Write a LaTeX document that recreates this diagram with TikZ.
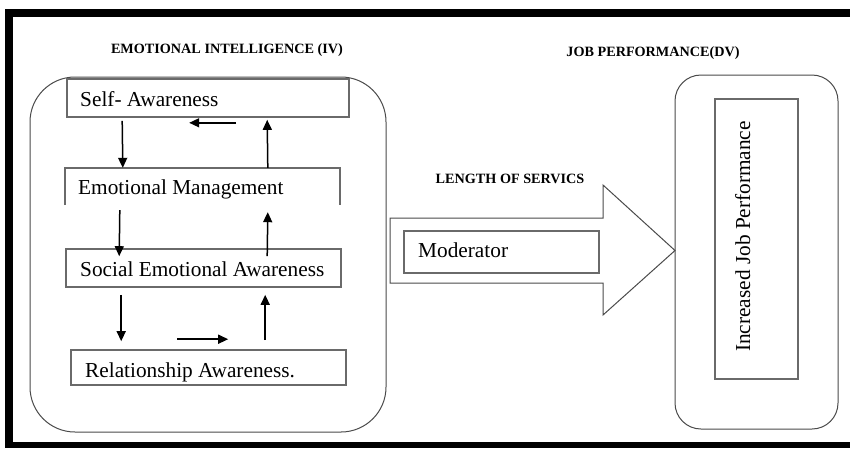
\documentclass[tikz,border=0pt]{standalone}
\usepackage{fontspec}
\setmainfont{Liberation Serif}
\usetikzlibrary{calc,arrows.meta}
\definecolor{boxgray}{HTML}{6A6A6A}
\definecolor{linegray}{HTML}{4A4A4A}
\begin{document}
\begin{tikzpicture}[x=1pt,y=-1pt,
  box/.style={draw=boxgray,line width=1.6pt,inner sep=0pt},
  hidden/.style={inner sep=0pt},
  roundbox/.style={draw=linegray,line width=1pt,inner sep=0pt},
  lbl/.style={inner sep=0pt,font=\fontsize{21.3}{24}\selectfont},
  ttl/.style={inner sep=0pt,font=\fontsize{14.2}{16}\selectfont\bfseries},
  arr/.style={line width=1.5pt,-{Triangle[length=10pt,width=9pt]}}]
\useasboundingbox (0,0) rectangle (850,448);
% outer frame
\fill (5,9) rectangle (850,17);
\fill (5,9) rectangle (13,448);
\fill (5,442) rectangle (850,448);
% titles
\node[ttl,anchor=base] (t1) at (227,53) {EMOTIONAL INTELLIGENCE (IV)};
\node[ttl,anchor=base] (t2) at (653,56) {JOB PERFORMANCE(DV)};
\node[ttl,anchor=base] (t3) at (510,183) {LENGTH OF SERVICS};
% containers
\node[roundbox,rounded corners=45pt,minimum width=356pt,minimum height=355pt] (ei) at (208,254.5) {};
\node[roundbox,rounded corners=26pt,minimum width=163pt,minimum height=354pt] (jp) at (756.5,252) {};
% left boxes
\node[box,minimum width=282pt,minimum height=38pt] (sa) at (208,98) {};
\node[hidden,minimum width=275pt,minimum height=37pt] (em) at (202.5,186.5) {};
\draw[boxgray,line width=1.6pt] (em.south west) -- (em.north west) -- (em.north east) -- (em.south east);
\node[box,minimum width=275pt,minimum height=38pt] (so) at (203.5,268) {};
\node[box,minimum width=275pt,minimum height=35pt] (ra) at (208.5,367.5) {};
% labels
\node[lbl,anchor=base west] (tsa) at (80,106) {Self- Awareness};
\node[lbl,anchor=base west] (tem) at (78,194) {Emotional Management};
\node[lbl,anchor=base west] (tso) at (80,276) {Social Emotional Awareness};
\node[lbl,anchor=base west] (tra) at (85,377) {Relationship Awareness.};
% arrows
\draw[arr] ($(sa.south west)+(56,3)$) -- ($(em.north west)+(58,0)$);
\draw[arr] ($(sa.south west)+(170,5)$) -- ($(sa.south west)+(123,5)$);
\draw[arr] ($(em.north west)+(203,0)$) -- ($(sa.south west)+(201,2)$);
\draw[arr] ($(em.south west)+(55,5)$) -- ($(so.north west)+(54,8)$);
\draw[arr] ($(so.north west)+(202,8)$) -- ($(em.south west)+(203,7)$);
\draw[arr] ($(so.south west)+(56,7)$) -- ($(ra.north west)+(51,-8)$);
\draw[arr] ($(ra.north west)+(107,-10)$) -- ($(ra.north west)+(158,-10)$);
\draw[arr] ($(ra.north west)+(195,-9)$) -- ($(so.south west)+(200,7)$);
% block arrow
\draw[linegray,line width=1pt] (390,218) -- (603,218) -- (603,185) -- (675,250.5) -- (603,315) -- (603,283) -- (390,283) -- cycle;
\node[box,minimum width=195pt,minimum height=42pt] (mod) at (501.5,252) {};
\node[lbl,anchor=base west] (tmod) at (418,257) {Moderator};
% right box
\node[box,minimum width=83pt,minimum height=280pt] (ijp) at (756.5,239) {};
\node[lbl,anchor=base west,rotate=90] (tijp) at (750,352) {Increased Job Performance};
\end{tikzpicture}
\end{document}
